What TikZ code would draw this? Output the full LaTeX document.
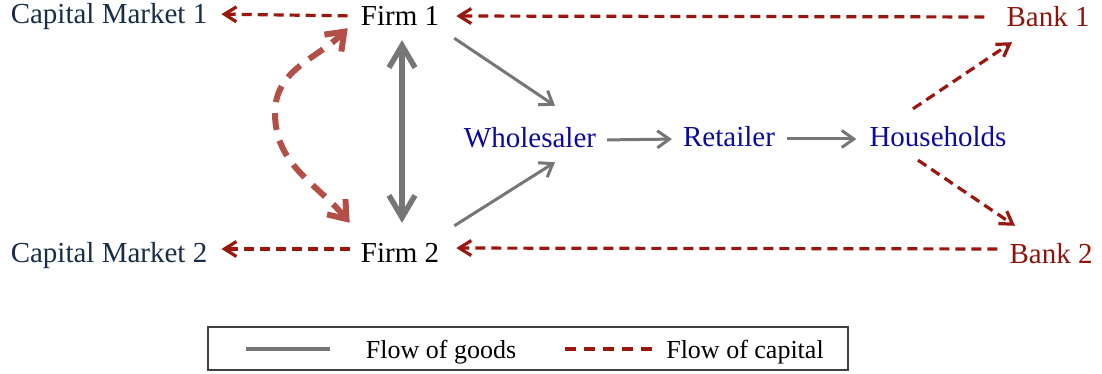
\documentclass[tikz,border=0pt]{standalone}
\usepackage{fontspec}
\setmainfont{Liberation Serif}
\usetikzlibrary{arrows.meta,calc}
\definecolor{capred}{RGB}{155,22,12}
\definecolor{curvered}{RGB}{178,80,72}
\definecolor{goodsgray}{RGB}{118,118,118}
\definecolor{navytext}{RGB}{25,45,70}
\definecolor{bluetext}{RGB}{10,10,160}
\definecolor{banktext}{RGB}{140,20,10}
\begin{document}
\begin{tikzpicture}[x=1pt,y=-1pt,
  lbl/.style={inner sep=4pt, text height=22pt, text depth=6pt, anchor=base,
    font=\fontsize{29}{34}\selectfont},
  legtext/.style={inner sep=2pt, anchor=base, font=\fontsize{26}{30}\selectfont},
  capflow/.style={draw=capred, line width=3.2pt, dash pattern=on 10pt off 6pt,
    -{Straight Barb[length=12pt,width=15pt]}},
  goodsflow/.style={draw=goodsgray, line width=3pt,
    -{Straight Barb[length=12pt,width=17pt]}},
  goodsthick/.style={draw=goodsgray, line width=5.5pt,
    {Straight Barb[length=22pt,width=26pt]}-{Straight Barb[length=22pt,width=26pt]}},
  curveflow/.style={draw=curvered, line width=6pt, dash pattern=on 17pt off 11pt,
    {Straight Barb[length=16pt,width=24pt]}-{Straight Barb[length=16pt,width=24pt]}}
]
\useasboundingbox (0,0) rectangle (1102,374);

% nodes
\node[lbl, text=navytext] (cm1) at (109,24) {Capital Market 1};
\node[lbl] (firm1) at (400,26) {Firm 1};
\node[lbl, text=banktext] (bank1) at (1048,27) {Bank 1};
\node[lbl, text=bluetext] (whole) at (530,148) {Wholesaler};
\node[lbl, text=bluetext] (retail) at (729,147) {Retailer};
\node[lbl, text=bluetext] (house) at (938,147) {Households};
\node[lbl, text=navytext] (cm2) at (109,262) {Capital Market 2};
\node[lbl] (firm2) at (400,262) {Firm 2};
\node[lbl, text=banktext] (bank2) at (1051,263) {Bank 2};

% capital flows (horizontal)
\draw[capflow, shorten <=9pt, shorten >=10pt] ([yshift=2pt]firm1.west) -- ([yshift=2pt]cm1.east);
\draw[capflow, shorten <=18pt, shorten >=13pt] ([yshift=2pt]bank1.west) -- ([yshift=2pt]firm1.east);
\draw[capflow, shorten <=7pt, shorten >=10pt] ([yshift=5pt]firm2.west) -- ([yshift=5pt]cm2.east);
\draw[capflow, shorten <=8pt, shorten >=13pt] ([yshift=6pt]bank2.west) -- ([yshift=6pt]firm2.east);

% households to banks
\draw[capflow] ([xshift=-25pt,yshift=12pt]house.north) -- ([xshift=-36pt,yshift=-5pt]bank1.south);
\draw[capflow] ([xshift=-20pt,yshift=-3pt]house.south) -- ([xshift=-36pt,yshift=11pt]bank2.north);

% goods flows
\draw[goodsthick] ([xshift=2pt,yshift=-4pt]firm1.south) -- ([xshift=2pt,yshift=13pt]firm2.north);
\draw[goodsflow] ([xshift=11pt,yshift=-2pt]firm1.south east) -- ([xshift=25pt,yshift=16pt]whole.north);
\draw[goodsflow] ([xshift=11pt,yshift=10pt]firm2.north east) -- ([xshift=25pt,yshift=-4pt]whole.south);
\draw[goodsflow, shorten <=7pt, shorten >=7pt] (whole.east) -- (retail.west);
\draw[goodsflow, shorten <=8pt, shorten >=9pt] (retail.east) -- (house.west);

% curved capital flow between firms
\coordinate (bend) at (275,113);
\draw[curveflow] ([xshift=-7pt,yshift=13pt]firm2.north west) to[out=130,in=-90] (bend)
  to[out=90,in=225] ([xshift=-9pt,yshift=8pt]firm1.south west);

% legend
\draw[draw=black!75, line width=1.2pt] (208,327) rectangle (848,370);
\coordinate (lg1a) at (246,349);
\coordinate (lg1b) at (330,349);
\coordinate (lg2a) at (565,349);
\coordinate (lg2b) at (653,349);
\draw[draw=goodsgray, line width=3.5pt] (lg1a) -- (lg1b);
\draw[draw=capred, line width=3.2pt, dash pattern=on 11pt off 8pt] (lg2a) -- (lg2b);
\node[legtext] (leg1) at (441,358) {Flow of goods};
\node[legtext] (leg2) at (745,358) {Flow of capital};
\end{tikzpicture}
\end{document}
